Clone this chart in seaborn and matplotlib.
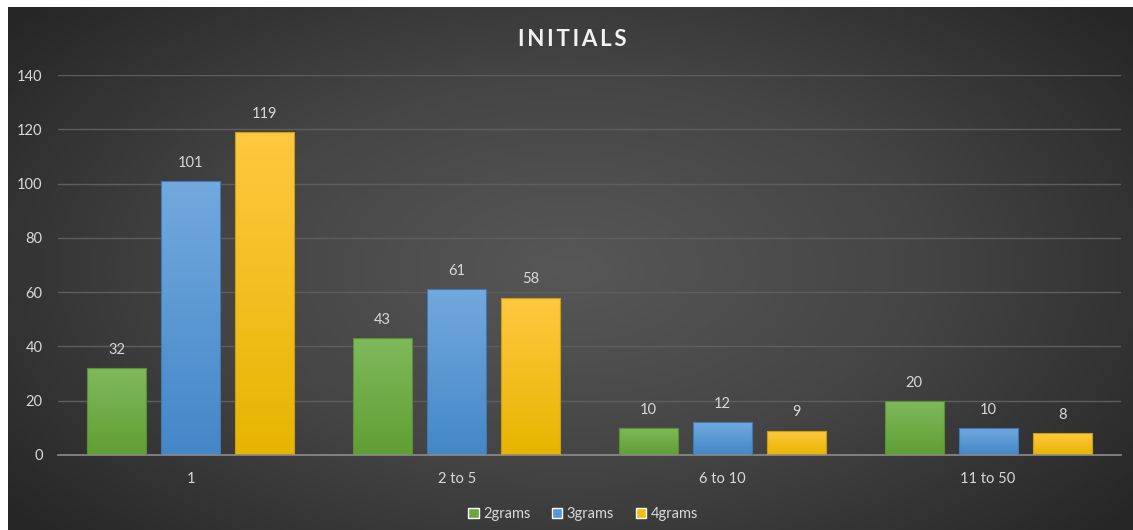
import numpy as np
import pandas as pd
import seaborn as sb
import matplotlib.pyplot as plt
from matplotlib.colors import LinearSegmentedColormap

# chart values
categories = ["1", "2 to 5", "6 to 10", "11 to 50"]
grams_2 = [32, 43, 10, 20]
grams_3 = [101, 61, 12, 10]
grams_4 = [119, 58, 9, 8]
series_names = ["2grams", "3grams", "4grams"]

data = pd.DataFrame({
    "bucket": categories * 3,
    "count": grams_2 + grams_3 + grams_4,
    "series": [s for s in series_names for _ in categories],
})

sb.set_theme(style="dark")
plt.rcParams["font.family"] = ["Lato", "DejaVu Sans"]

fig = plt.figure(figsize=(11.33, 5.30), dpi=100)
fig.patch.set_facecolor("white")

# dark radial background, leaves a thin white strip top/left
bg = fig.add_axes([8 / 1133, 0, 1 - 8 / 1133, 1 - 7 / 530])
yy, xx = np.mgrid[0:1:300j, 0:1:600j]
r = np.sqrt(((xx - 0.5) / 0.75) ** 2 + ((yy - 0.5) / 0.9) ** 2)
bg_cmap = LinearSegmentedColormap.from_list("bg", ["#575757", "#444444", "#262626"])
bg.imshow(r, cmap=bg_cmap, aspect="auto", extent=[0, 1, 0, 1], vmin=0, vmax=0.85)
bg.set_axis_off()

ax = fig.add_axes([58 / 1133, (530 - 455) / 530, (1121 - 58) / 1133, 380 / 530])
ax.patch.set_alpha(0)

palette = {"2grams": "#6aa83f", "3grams": "#5596d6", "4grams": "#f5bd10"}
sb.barplot(data=data, x="bucket", y="count", hue="series", palette=palette,
           width=0.835, gap=0.2, ax=ax, saturation=1, legend=True)

grads = {
    "2grams": ("#80b95c", "#5f9f33", "#5a8f35"),
    "3grams": ("#72a9de", "#4487c8", "#3e79b5"),
    "4grams": ("#ffc840", "#e7b500", "#c99e10"),
}

# repaint bars with vertical gradients
for container, name in zip(ax.containers, series_names):
    top, bottom, edge = grads[name]
    cmap = LinearSegmentedColormap.from_list(name, [bottom, top])
    for bar in container:
        x0, y0 = bar.get_x(), bar.get_y()
        w, h = bar.get_width(), bar.get_height()
        grad = np.linspace(0, 1, 100).reshape(-1, 1)
        im = ax.imshow(grad, cmap=cmap, origin="lower", aspect="auto",
                       extent=[x0, x0 + w, y0, y0 + h], zorder=2)
        im.set_clip_path(bar)
        bar.set_facecolor("none")
        bar.set_edgecolor(edge)
        bar.set_linewidth(0.8)
        bar.set_zorder(3)
    ax.bar_label(container, padding=8, color="#d9d9d9", fontsize=10.5)

ax.set_xlim(-0.5, 3.5)
ax.set_ylim(0, 140)
ax.set_yticks(range(0, 141, 20))
ax.grid(axis="y", color="#5e5e5e", linewidth=1)
ax.grid(axis="x", visible=False)
ax.set_axisbelow(True)
for side in ["top", "right", "left"]:
    ax.spines[side].set_visible(False)
ax.spines["bottom"].set_color("#8c8c8c")
ax.spines["bottom"].set_linewidth(1.2)
ax.tick_params(colors="#d9d9d9", labelsize=10.5, length=0, pad=12)
ax.tick_params(axis="y", pad=11)
ax.set_xlabel("")
ax.set_ylabel("")

handles, labels = ax.get_legend_handles_labels()
ax.legend(handles, labels, loc="center", bbox_to_anchor=(0.494, -0.155), ncol=3,
          frameon=False, fontsize=10.5, labelcolor="#d9d9d9", handlelength=0.7,
          handleheight=0.7, handletextpad=0.3, columnspacing=1.5)

fig.text(0.505, 1 - 39 / 530, "\u2009".join("INITIALS"),
         ha="center", va="center", color="#f2f2f2", fontsize=16, fontweight="bold")

plt.savefig("out.png", dpi=100, facecolor=fig.get_facecolor())
plt.close()
